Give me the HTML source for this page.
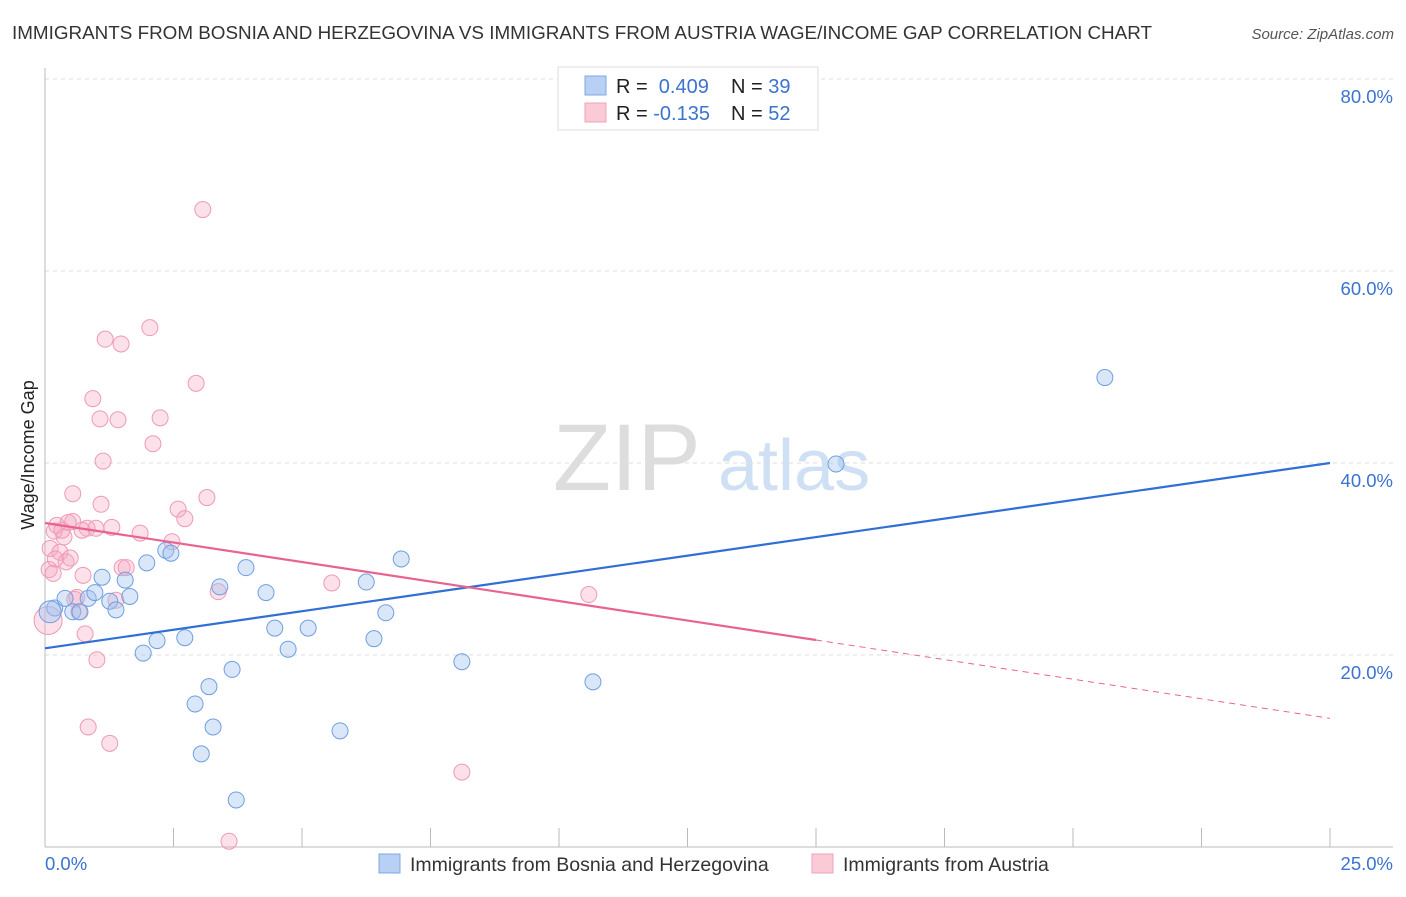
<!DOCTYPE html>
<html><head><meta charset="utf-8"><style>
body{margin:0;background:#fff;font-family:"Liberation Sans",sans-serif;}
svg text{font-family:"Liberation Sans",sans-serif;}
</style></head><body>
<svg id="chart" width="1406" height="892" xmlns="http://www.w3.org/2000/svg">
<text x="12" y="39" font-size="18" fill="#333" textLength="1140" lengthAdjust="spacingAndGlyphs">IMMIGRANTS FROM BOSNIA AND HERZEGOVINA VS IMMIGRANTS FROM AUSTRIA WAGE/INCOME GAP CORRELATION CHART</text>
<text x="1394" y="39" font-size="15" fill="#555" font-style="italic" text-anchor="end">Source: ZipAtlas.com</text>
<g id="grid"></g>
<g><text x="553" y="490" font-size="95" fill="#ddd" font-family="Liberation Serif">ZIP</text><text x="718" y="490" font-size="72" fill="#cfe0f4">atlas</text></g>
<text transform="translate(34,455) rotate(-90)" font-size="18" fill="#222" text-anchor="middle">Wage/Income Gap</text>
<g id="marks"></g>
<g>
<rect x="558" y="67" width="260" height="63" fill="#fff" stroke="#ddd"/>
<rect x="585" y="76" width="21" height="19" fill="#b7d0f3" stroke="#7fa8e0"/>
<rect x="585" y="103" width="21" height="19" fill="#fbcad7" stroke="#efa3b9"/>
<text x="616" y="93" font-size="20" fill="#222">R = <tspan fill="#3a73d0">&#160;0.409</tspan><tspan x="731">N = </tspan><tspan fill="#3a73d0">39</tspan></text>
<text x="616" y="120" font-size="20" fill="#222">R = <tspan fill="#3a73d0">-0.135</tspan><tspan x="731">N = </tspan><tspan fill="#3a73d0">52</tspan></text>
</g>
<g>
<rect x="379" y="854" width="21" height="19" fill="#b7d0f3" stroke="#7fa8e0"/>
<text x="410" y="871" font-size="19.5" fill="#333">Immigrants from Bosnia and Herzegovina</text>
<rect x="812" y="854" width="21" height="19" fill="#fbcad7" stroke="#efa3b9"/>
<text x="843" y="871" font-size="19.5" fill="#333">Immigrants from Austria</text>
</g>
</svg>
<script>
const blueX=[0.19,0.39,0.54,0.68,0.84,0.97,1.11,1.26,1.38,1.56,1.65,1.91,1.98,2.18,2.35,2.45,2.72,2.92,3.04,3.19,3.27,3.40,3.64,3.72,3.91,4.30,4.47,4.73,5.12,5.74,6.25,6.40,6.63,6.93,8.11,10.66,15.39,20.62,0.10];
const blueY=[24.9,25.9,24.5,24.5,25.9,26.5,28.1,25.6,24.7,27.8,26.1,20.2,29.6,21.5,30.9,30.6,21.8,14.9,9.7,16.7,12.5,27.1,18.5,4.9,29.1,26.5,22.8,20.6,22.8,12.1,27.6,21.7,24.4,30.0,19.3,17.2,39.9,48.9,24.5];
const pinkX=[0.06,0.08,0.10,0.18,0.23,0.29,0.37,0.41,0.49,0.54,0.54,0.58,0.66,0.74,0.78,0.82,0.93,1.01,1.07,1.09,1.13,1.17,1.26,1.30,1.38,1.42,1.48,1.50,1.58,0.84,1.85,2.04,2.10,2.24,2.47,2.59,2.72,2.94,3.07,3.15,3.37,3.58,5.58,8.11,10.58,0.45,0.72,0.33,0.99,0.16,0.2,0.62];
const pinkY=[23.6,28.9,31.1,32.9,33.5,30.7,32.3,29.7,30.1,36.8,33.9,25.8,24.5,28.3,22.2,33.2,46.7,19.5,44.6,35.7,40.2,52.9,10.8,33.3,25.7,44.5,52.4,29.1,29.1,12.5,32.7,54.1,42.0,44.7,31.8,35.2,34.2,48.3,66.4,36.4,26.6,0.6,27.5,7.8,26.3,33.8,33.0,33.0,33.2,28.5,30.0,26.0];
const yTicks=[20,40,60,80];
const xTickVals=[0,2.5,5,7.5,10,12.5,15,17.5,20,22.5,25];
const blueLine=[20.7,40.0];
const pinkLine=[33.75,21.56,13.4];
const X=v=>45+v*51.4, Y=v=>847-v*9.6;
const NS="http://www.w3.org/2000/svg";
const grid=document.getElementById('grid'), marks=document.getElementById('marks');
function mk(p,tag,a){const e=document.createElementNS(NS,tag);for(const k in a)e.setAttribute(k,a[k]);p.appendChild(e);return e;}
yTicks.forEach(t=>{
 const l=mk(grid,'line',{x1:45,x2:1393,y1:Y(t),y2:Y(t),stroke:'#ddd','stroke-dasharray':'4,4'});
 
 
 const tx=mk(grid,'text',{x:1393,y:Y(t)+24,'font-size':18.5,fill:'#3a73d0','text-anchor':'end'});tx.textContent=t.toFixed(1)+'%';
 
 
});
const ax=mk(grid,'line',{x1:45,x2:45,y1:68,y2:847,stroke:'#bbb'});


const bx=mk(grid,'line',{x1:45,x2:1393,y1:847,y2:847,stroke:'#bbb'});


xTickVals.forEach(t=>{const l=mk(grid,'line',{x1:X(t),x2:X(t),y1:828,y2:847,stroke:'#bbb'});
 
 });
const x0=mk(grid,'text',{x:45,y:870,'font-size':18.5,fill:'#3a73d0'});x0.textContent='0.0%';


const x1=mk(grid,'text',{x:1393,y:870,'font-size':18.5,fill:'#3a73d0','text-anchor':'end'});x1.textContent='25.0%';


pinkX.forEach((x,i)=>{const c=mk(marks,'circle',{cx:X(x),cy:Y(pinkY[i]),r:i==0?14:8,fill:'rgba(245,170,195,0.35)',stroke:'#ee9ab4','stroke-width':1});
 
 });
blueX.forEach((x,i)=>{const c=mk(marks,'circle',{cx:X(x),cy:Y(blueY[i]),r:i==blueX.length-1?11:8,fill:'rgba(160,195,240,0.4)',stroke:'#6f9fdf','stroke-width':1});
 
 });
const bl=mk(marks,'line',{x1:X(0),y1:Y(blueLine[0]),x2:X(25),y2:Y(blueLine[1]),stroke:'#2f6fd6','stroke-width':2.2});


const pl=mk(marks,'line',{x1:X(0),y1:Y(pinkLine[0]),x2:X(15),y2:Y(pinkLine[1]),stroke:'#e8648f','stroke-width':2.2});


const pd=mk(marks,'line',{x1:X(15),y1:Y(pinkLine[1]),x2:X(25),y2:Y(pinkLine[2]),stroke:'#e8648f','stroke-width':1,'stroke-dasharray':'6,5'});


</script>
</body></html>
